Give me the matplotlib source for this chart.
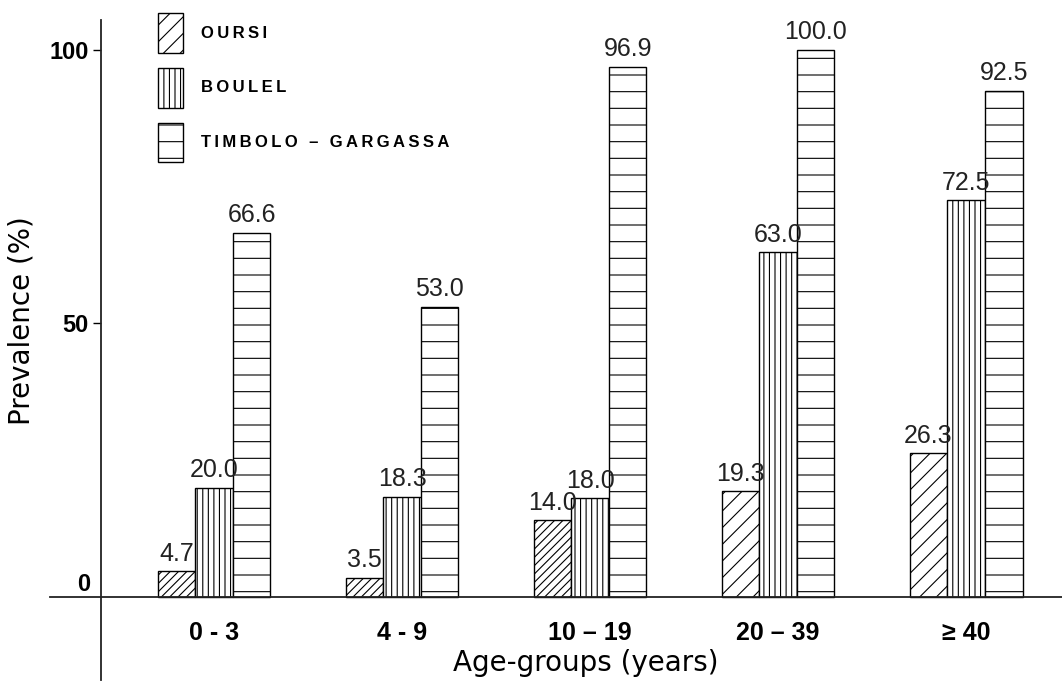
import numpy as np
import matplotlib
matplotlib.use('Agg')
import matplotlib.pyplot as plt
from matplotlib.patches import Patch

# données
groupes = ['0 - 3', '4 - 9', '10 – 19', '20 – 39', '≥ 40']
oursi = [4.7, 3.5, 14.0, 19.3, 26.3]
boulel = [20.0, 18.3, 18.0, 63.0, 72.5]
timbolo = [66.6, 53.0, 96.9, 100.0, 92.5]
series = ['OURSI', 'BOULEL', 'TIMBOLO – GARGASSA']

plt.rcParams['font.family'] = ['Liberation Sans', 'DejaVu Sans']
plt.rcParams['hatch.linewidth'] = 0.8

fig = plt.figure(figsize=(10.62, 6.9), dpi=100)
ax = fig.add_axes([50 / 1062, 0, 1012 / 1062, 1])

x = np.arange(len(groupes)) * 5.0
w = 1.0

hatch_oursi = ['////', '////', '////', '//', '//']
b1 = ax.bar(x - w, oursi, w, color='white', edgecolor='black', linewidth=1.0)
for b, h in zip(b1, hatch_oursi):
    b.set_hatch(h)
b2 = ax.bar(x, boulel, w, color='white', edgecolor='black', linewidth=1.0, hatch='|||')
b3 = ax.bar(x + w, timbolo, w, color='white', edgecolor='black', linewidth=1.0, hatch='-')

# étiquettes des valeurs
for bars, vals in [(b1, oursi), (b2, boulel), (b3, timbolo)]:
    for b, v in zip(bars, vals):
        ax.annotate(f'{v:.1f}', (b.get_x() + b.get_width() / 2, v),
                    xytext=(0, 4), textcoords='offset points',
                    ha='center', va='bottom', fontsize=18, color='#222222')

# axes
ax.set_xlim(-4.36, 22.55)
ax.set_ylim(-17.0, 109.1)
for s in ['top', 'right']:
    ax.spines[s].set_visible(False)
ax.spines['left'].set_position(('data', -3.0))
ax.spines['left'].set_bounds(-15.2, 105.5)
ax.spines['bottom'].set_position(('data', 0))
for s in ['left', 'bottom']:
    ax.spines[s].set_linewidth(1.3)
    ax.spines[s].set_color('#222222')

ax.set_yticks([50, 100])
ax.set_yticklabels(['50', '100'], fontsize=17, fontweight='bold')
ax.tick_params(axis='y', length=6, width=1.0, pad=3)
ax.annotate('0', (-3.3, 0), xytext=(0, 1), textcoords='offset points',
            ha='right', va='bottom', fontsize=17, fontweight='bold')

ax.set_xticks(x)
ax.set_xticklabels(groupes, fontsize=18, fontweight='bold')
ax.tick_params(axis='x', length=0, pad=17)

fig.text(586 / 1062, 1 - 663 / 690, 'Age-groups (years)', ha='center', va='center',
         fontsize=20, family=['DejaVu Sans'])
fig.text(22 / 1062, 1 - 321 / 690, 'Prevalence (%)', ha='center', va='center',
         rotation=90, fontsize=20, family=['DejaVu Sans'])

# légende
handles = [Patch(facecolor='white', edgecolor='black', hatch='//'),
           Patch(facecolor='white', edgecolor='black', hatch='|||'),
           Patch(facecolor='white', edgecolor='black', hatch='-')]
labels = ['\u2009'.join(s) for s in series]
ax.legend(handles, labels, loc='upper left', bbox_to_anchor=(158 / 1062, 1 - 13 / 690),
          bbox_transform=fig.transFigure, frameon=False, borderpad=0, borderaxespad=0,
          handlelength=1.5, handleheight=3.3, labelspacing=0.9, handletextpad=1.1,
          prop={'size': 12, 'weight': 'bold'})

plt.savefig('out.png', dpi=100)
